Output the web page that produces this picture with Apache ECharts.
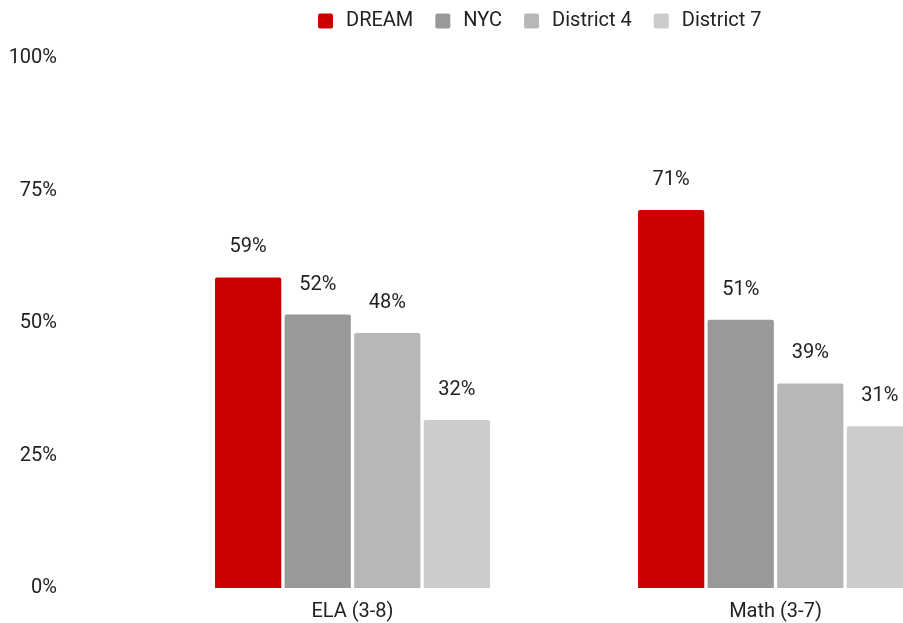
<!DOCTYPE html>
<html>
<head>
<meta charset="utf-8">
<script src="https://cdn.jsdelivr.net/npm/echarts@6/dist/echarts.min.js"></script>
<style>
  html, body { margin: 0; padding: 0; background: #fff; overflow: hidden; }
  /* the plot runs past the right edge of the window, as in the reference */
  #content { width: 987px; height: 623px; }
</style>
</head>
<body>
<div id="content"></div>
<script>
// data
const categories = ["ELA (3-8)", "Math (3-7)"];
const seriesNames = ["DREAM", "NYC", "District 4", "District 7"];
const dreamVals = [58.6, 71.3];
const nycVals = [51.6, 50.6];
const district4Vals = [48.1, 38.6];
const district7Vals = [31.7, 30.5];
const yTicks = [0, 25, 50, 75, 100];

const colors = ["#cc0000", "#999999", "#b7b7b7", "#cccccc"];
const allVals = [dreamVals, nycVals, district4Vals, district7Vals];

let myChart = echarts.init(document.getElementById("content"));

let makeSeries = (name, data, color) => ({
  name: name,
  type: "bar",
  data: data,
  barGap: "5%",
  barCategoryGap: "35%",
  itemStyle: {
    color: color,
    borderRadius: [2, 2, 0, 0],
  },
  label: {
    show: true,
    position: "top",
    distance: 20,
    color: "#222",
    fontSize: 20,
    fontFamily: "Roboto",
    formatter: (p) => Math.round(p.value) + "%",
  },
});

myChart.setOption({
  animation: false,
  textStyle: { fontFamily: "Roboto" },
  legend: {
    data: seriesNames,
    left: 313,
    top: 6,
    icon: "path://M2,0 L13,0 Q15,0 15,2 L15,13 Q15,15 13,15 L2,15 Q0,15 0,13 L0,2 Q0,0 2,0 Z",
    itemWidth: 15,
    itemHeight: 15,
    itemGap: 22,
    textStyle: {
      fontSize: 20,
      color: "#222",
      fontFamily: "Roboto",
      padding: [0, 0, 0, 8],
    },
  },
  grid: {
    left: 141,
    right: 0,
    top: 58,
    bottom: 35,
  },
  xAxis: {
    type: "category",
    data: categories,
    axisLine: { show: false },
    axisTick: { show: false },
    axisLabel: {
      margin: 14,
      fontSize: 20,
      color: "#222",
      fontFamily: "Roboto",
    },
  },
  yAxis: {
    type: "value",
    min: yTicks[0],
    max: yTicks[yTicks.length - 1],
    interval: 25,
    splitLine: { show: false },
    axisLine: { show: false },
    axisTick: { show: false },
    axisLabel: {
      margin: 84,
      fontSize: 20,
      color: "#222",
      fontFamily: "Roboto",
      padding: [4, 0, 0, 0],
      formatter: "{value}%",
    },
  },
  series: seriesNames.map((n, i) => makeSeries(n, allVals[i], colors[i])),
});

window.addEventListener("resize", function () {
  myChart.resize();
});
</script>
</body>
</html>
